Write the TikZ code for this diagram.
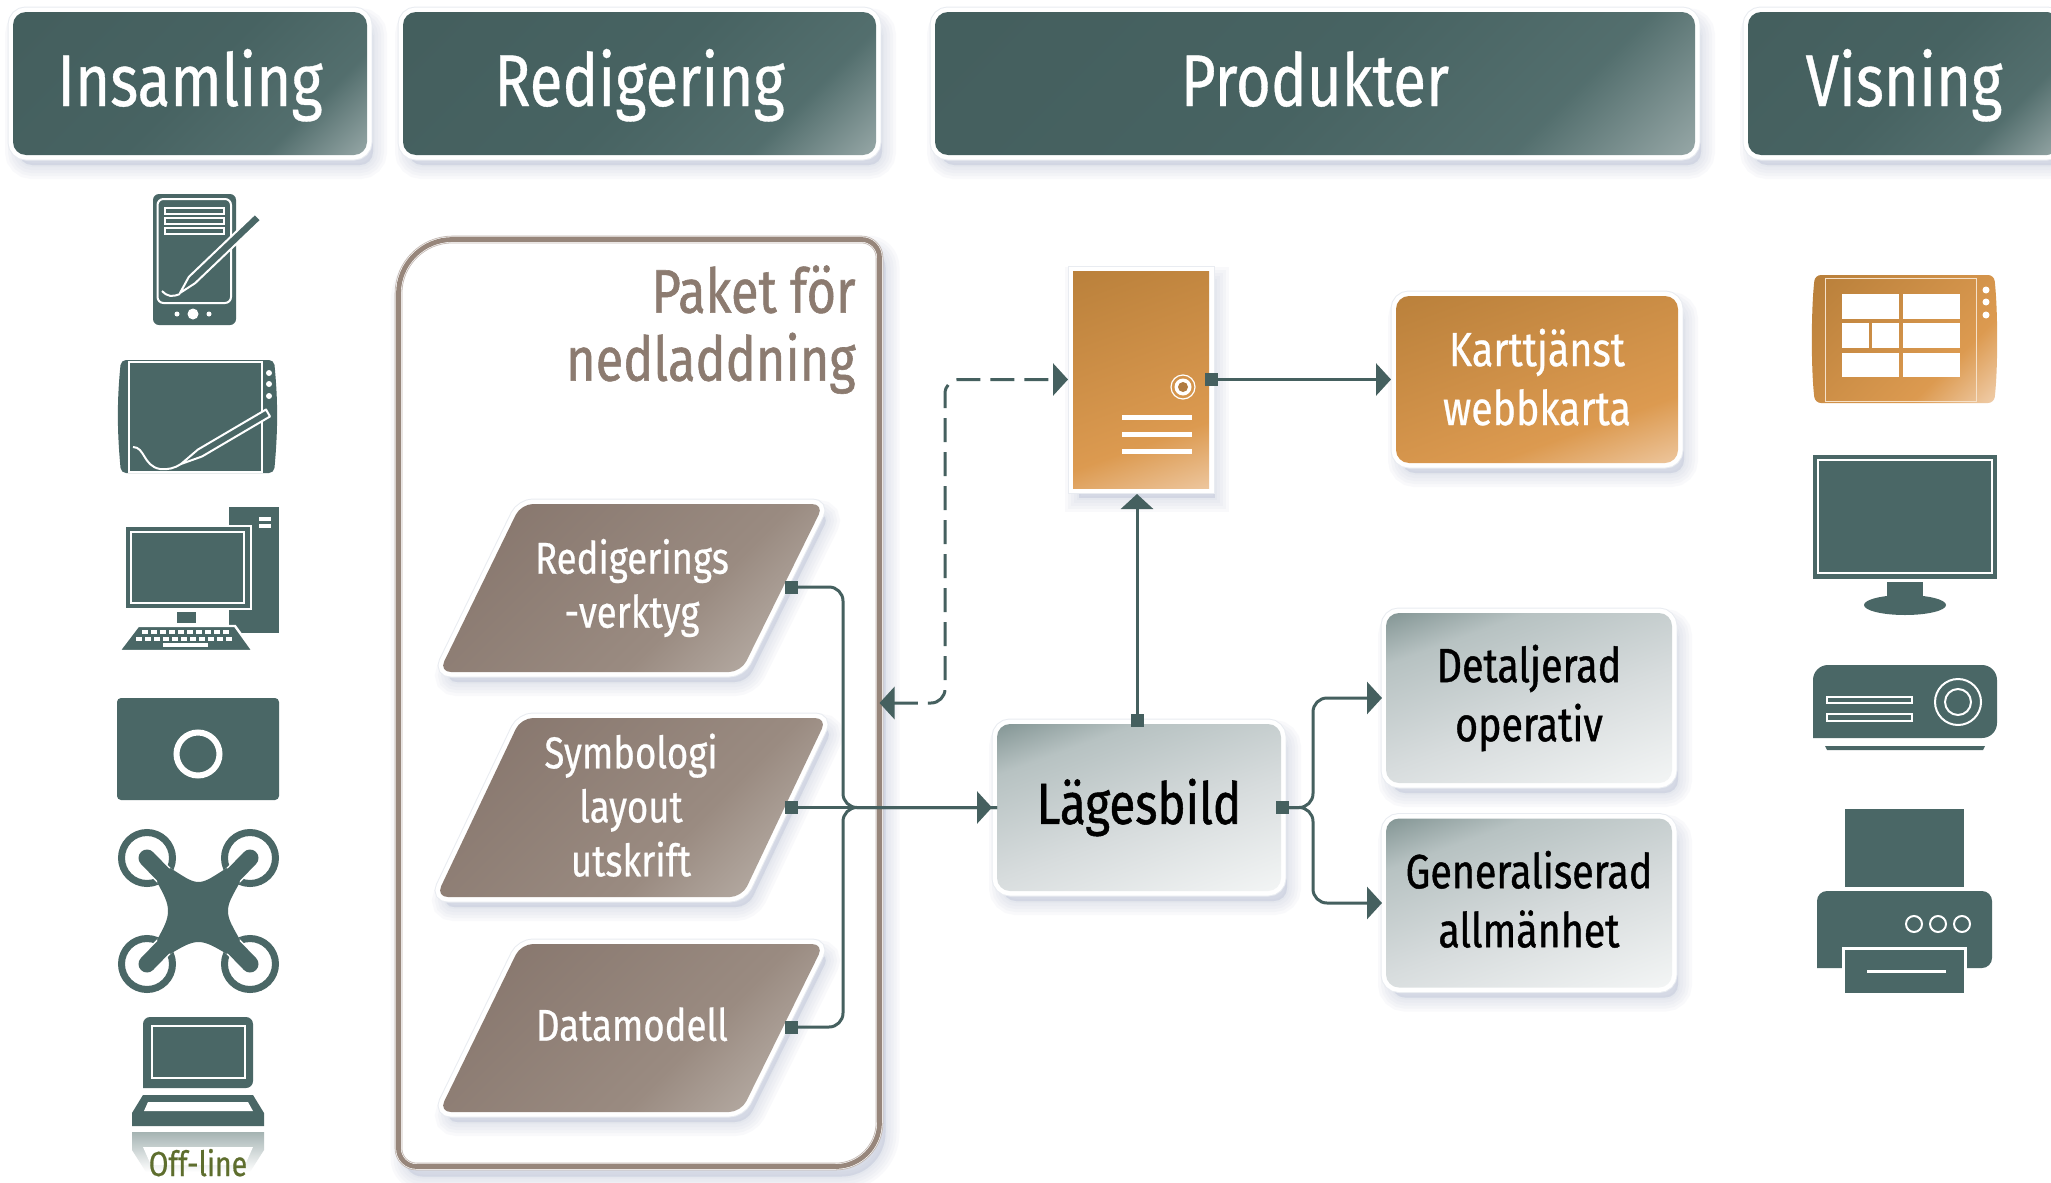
\documentclass[tikz,border=0pt]{standalone}
\usepackage{fontspec}
\setmainfont{Fira Sans}[FakeStretch=0.82,FakeBold=0.5]
\newfontfamily\medfont{Fira Sans}[FakeStretch=0.82,FakeBold=0.9]
\usetikzlibrary{arrows.meta}
\definecolor{teal}{HTML}{4A6766}
\definecolor{linec}{HTML}{45605F}
\definecolor{shc}{HTML}{AEB8D0}
\definecolor{glow}{HTML}{E9ECF1}
\definecolor{brown}{HTML}{97867B}
\definecolor{browntxt}{HTML}{8C7B70}
\definecolor{oliv}{HTML}{5E6E2E}
\pgfdeclareverticalshading{tealg}{100bp}{color(0bp)=(teal!45!white); color(14.6bp)=(teal!58!white); color(29bp)=(teal!95!white); color(50bp)=(teal!96!black); color(100bp)=(teal!90!black)}
\definecolor{or1}{HTML}{EFCBA6}\definecolor{or2}{HTML}{DC9A50}\definecolor{or3}{HTML}{B87F3A}
\pgfdeclareverticalshading{orangeg}{100bp}{color(0bp)=(or1); color(16bp)=(or1); color(34bp)=(or2); color(85bp)=(or3); color(100bp)=(or3)}
\definecolor{gr1}{HTML}{F3F5F5}\definecolor{gr2}{HTML}{D7DCDD}\definecolor{gr3}{HTML}{B7C2C2}\definecolor{gr4}{HTML}{849695}
\pgfdeclareverticalshading{grayg}{100bp}{color(0bp)=(gr1); color(18bp)=(gr1); color(45bp)=(gr2); color(70bp)=(gr3); color(82bp)=(gr4); color(100bp)=(gr4)}
\definecolor{br1}{HTML}{C5BDB6}\definecolor{br2}{HTML}{B5ABA3}\definecolor{br3}{HTML}{9A8B81}\definecolor{br4}{HTML}{84736A}
\pgfdeclareverticalshading{browng}{100bp}{color(0bp)=(br1); color(15bp)=(br1); color(23bp)=(br2); color(40bp)=(br3); color(85bp)=(br4); color(100bp)=(br4)}
\tikzset{
  shlayer/.style={preaction={draw=shc,fill=shc,opacity=.07,line width=#1,transform canvas={shift={(3pt,-5pt)}}}},
  softshadow/.style={shlayer=14pt,shlayer=11pt,shlayer=8pt,shlayer=5pt,shlayer=2pt},
  framed/.style={softshadow,preaction={draw=glow,line width=5.5pt},preaction={draw=white,line width=4.5pt}},
  wh/.style 2 args={minimum width=#1*.5pt,minimum height=#2*.5pt},
  flatbox/.style={rectangle,inner sep=0pt,outer sep=0pt,rounded corners=6.5pt,framed,align=center},
  hdr/.style={flatbox,shading=tealg,shading angle=45,text=white,font=\fontsize{36.6}{40}\selectfont,text height=24pt,text depth=1.5pt},
  orbox/.style={flatbox,shading=orangeg,shading angle=20,text=white,font=\fontsize{24}{29.5}\selectfont},
  grbox/.style={flatbox,shading=grayg,shading angle=20,text=black,font=\medfont\fontsize{24}{29.5}\selectfont},
  parashape/.style={rounded corners=6pt,framed,shade,shading=browng,shading angle=45},
  paratext/.style={inner sep=0pt,outer sep=0pt,text=white,align=center,font=\fontsize{22.3}{27}\selectfont},
  port/.style={fill=linec,inner sep=0pt,outer sep=0pt,minimum size=6.5pt,rectangle},
  conn/.style={draw=linec,line width=1.5pt,rounded corners=7pt},
  tipped/.style={-{Triangle[length=7.5pt,width=16pt]}},
  wl/.style={draw=white,line width=1pt},
  pkgpath/.style={insert path={(pkg.north) [rounded corners=9pt] -- (pkg.north east) [rounded corners=22pt] -- (pkg.south east) [rounded corners=9pt] -- (pkg.south west) [rounded corners=27pt] -- (pkg.north west) -- cycle}},
}
\begin{document}
\begin{tikzpicture}[x=.5pt,y=-.5pt]
\useasboundingbox (0,0) rectangle (2051,1183);
\clip (0,0) rectangle (2051,1183);
\fill[white] (0,0) rectangle (2051,1183);
% headers
\node[hdr,wh={354}{143}] (h1) at (190,83.5) {Insamling};
\node[hdr,wh={473}{143}] (h2) at (639.5,83.5) {Redigering};
\node[hdr,wh={760}{143}] (h3) at (1315,83.5) {Produkter};
\node[hdr,wh={312}{143}] (h4) at (1904,83.5) {Visning};
% package container
\node[minimum width=240.5pt,minimum height=463.5pt,inner sep=0pt,outer sep=0pt] (pkg) at (639,703) {};
\path[softshadow,fill=white,pkgpath];
\draw[brown!60!white,line width=3.8pt,pkgpath];
\draw[white,line width=3pt,pkgpath];
\draw[brown,line width=2.4pt,pkgpath];
\node[anchor=north east,align=right,text=browntxt,inner sep=0pt,font=\medfont\fontsize{30.8}{34}\selectfont] (pkgt) at (856,265) {Paket för\\nedladdning};
% parallelograms
\path[parashape] (521,504) -- (824,504) -- (741,672) -- (439,672) -- cycle;
\node[paratext] (p1) at (632,588) {Redigerings\\-verktyg};
\path[parashape] (521,718) -- (827,718) -- (742,897) -- (436,897) -- cycle;
\node[paratext] (p2) at (631,807.5) {Symbologi\\layout\\utskrift\\[-24.4pt]\mbox{}};
\path[parashape] (521,944) -- (824,944) -- (741,1112) -- (439,1112) -- cycle;
\node[paratext] (p3) at (632,1028) {Datamodell\\[-23pt]\mbox{}};
% product boxes
\node[rectangle,inner sep=0pt,outer sep=0pt,framed,shading=orangeg,shading angle=20,wh={136}{217}] (srv) at (1141,379.5) {};
\node[orbox,wh={282}{167}] (kart) at (1537,379.5) {Karttjänst\\webbkarta\\[-26.9pt]\mbox{}};
\node[grbox,wh={284}{167},font=\medfont\fontsize{29}{32}\selectfont] (lag) at (1139,807.5) {Lägesbild};
\node[grbox,wh={286}{170}] (det) at (1529,698) {Detaljerad\\operativ};
\node[grbox,wh={286}{169}] (gen) at (1529,903) {Generaliserad\\allmänhet\\[-25.5pt]\mbox{}};
% server details
\draw[white,line width=.6pt] (1183,387) circle (12);
\fill[white] (1183,387) circle (8.5);
\fill[or2!80!black] (1183,387) circle (5);
\foreach \yy in {417,434,451} \fill[white] (1122,\yy-2.5) rectangle (1192,\yy+2.5);
% ports
\node[port] (pp1) at (791,587) {};
\node[port] (pp2) at (791,807.5) {};
\node[port] (pp3) at (791,1027) {};
\node[port] (ps) at (1211,379.5) {};
\node[port] (plt) at (1137,720) {};
\node[port] (plr) at (1282,807.5) {};
% connectors
\coordinate (bus) at (843,807.5);
\coordinate (dj1) at (945,379.5);
\coordinate (dj2) at (945,703);
\coordinate (fork) at (1313,807.5);
\draw[conn] (pp1.center) -| (bus) -- (lag.west);
\draw[conn] (pp3.center) -| (bus) -- (lag.west);
\draw[conn,tipped,shorten >=2.5pt] (pp2.center) -- (lag.west);
\draw[conn,tipped,shorten >=3pt] (plt.center) -- (plt |- srv.south);
\draw[conn,tipped,shorten >=2.5pt] (ps.center) -- (kart.west);
\draw[conn,tipped,shorten >=2pt] (plr.center) -- (fork) |- (det.west);
\draw[conn,tipped,shorten >=2pt] (plr.center) -- (fork) |- (gen.west);
\draw[conn,dash pattern=on 12pt off 5pt,{Triangle[length=7.5pt,width=16pt]}-{Triangle[length=7.5pt,width=16pt]},shorten >=2.5pt] (pkg.east |- dj2) -- (dj2) -- (dj1) -- (srv.west);
% phone
\fill[teal,rounded corners=3pt] (153,194) rectangle (236,325);
\draw[wl,rounded corners=3pt] (157.5,199) rectangle (231,303);
\foreach \yy in {208,218,228} \draw[white,fill=teal,line width=.7pt] (165,\yy) rectangle (224,\yy+6);
\fill[white] (193,314) circle (5.5); \fill[white] (177,314) circle (2.5); \fill[white] (209,314) circle (2.5);
\draw[wl,fill=teal,line join=round] (180,293) -- (188.9,276.8) -- (254.9,213.8) -- (261.1,220.2) -- (195.1,283.2) -- cycle;
\draw[wl] (162,291) .. controls (168,297) and (172,297) .. (180,294);
% tablet
\fill[teal,rounded corners=2.5pt] (121,360) .. controls (117,400) and (117,430) .. (121,473) -- (274,473) .. controls (278,430) and (278,400) .. (274,360) -- cycle;
\draw[wl] (129,362) rectangle (262,472);
\foreach \yy in {373,384,396} \fill[white] (269,\yy) circle (3);
\draw[wl,fill=teal,line join=round] (181,464) -- (198,449.5) -- (266,409.5) -- (270,416.5) -- (202,456.5) -- cycle;
\draw[wl] (133,447) .. controls (145,447) and (143,466) .. (160,469) .. controls (168,470) and (175,468) .. (181,464);
% desktop
\fill[teal] (229,507) rectangle (279,633);
\fill[white] (259,517) rectangle (271,521); \fill[white] (259,524) rectangle (271,528);
\draw[white,fill=teal,line width=1.2pt] (125,526) rectangle (251,609);
\draw[wl] (131,532) rectangle (244,603);
\fill[teal] (177,612) rectangle (196,623);
\draw[white,fill=teal,line width=1.2pt] (119,651) -- (253,651) -- (235,626) -- (138,626) -- cycle;
\foreach \xx in {142,151,...,223} {\fill[white] (\xx,630) rectangle (\xx+6,633.5);}
\foreach \xx in {136,145,...,227} {\fill[white] (\xx,637) rectangle (\xx+6,640.5);}
\fill[white] (163,643) rectangle (208,646.5);
% camera
\fill[teal,rounded corners=2pt] (117,698) rectangle (279,800);
\draw[white,line width=3pt] (198,754) circle (21.5);
% drone
\foreach \cx/\cy in {147/858,250/858,147/964,250/964} \draw[teal,line width=3.5pt] (\cx,\cy) circle (25.5);
\draw[white,line width=10pt,line cap=round] (147,858) -- (198.5,911);
\draw[white,line width=10pt,line cap=round] (250,858) -- (198.5,911);
\draw[white,line width=10pt,line cap=round] (147,964) -- (198.5,911);
\draw[white,line width=10pt,line cap=round] (250,964) -- (198.5,911);
\foreach \cx/\cy in {147/858,250/858,147/964,250/964} \draw[teal,line width=8.5pt,line cap=round] (\cx,\cy) -- (198.5,911);
\fill[teal] (170,868) .. controls (182,875) and (190,882) .. (198.5,882) .. controls (207,882) and (215,875) .. (227,868) -- (240,882) .. controls (233,895) and (228,902) .. (228,911) .. controls (228,920) and (233,927) .. (240,940) -- (227,954) .. controls (215,947) and (207,942) .. (198.5,942) .. controls (190,942) and (182,947) .. (170,954) -- (157,940) .. controls (164,927) and (168,920) .. (168,911) .. controls (168,902) and (164,895) .. (157,882) -- cycle;
% laptop
\fill[teal,rounded corners=3.5pt] (143,1088) -- (143,1017) -- (253,1017) -- (253,1088) [sharp corners] -- cycle;
\draw[wl] (152,1026) rectangle (245,1078);
\fill[teal] (143,1095) -- (253,1095) -- (264,1113) -- (264,1126) -- (132,1126) -- (132,1113) -- cycle;
\fill[white] (148,1102) -- (248,1102) -- (253,1111) -- (144,1111) -- cycle;
\shade[top color=teal!50!white,bottom color=white] (132,1132) -- (264,1132) -- (264,1150) -- (250,1172) -- (146,1172) -- (132,1150) -- cycle;
\fill[white] (143,1147) -- (253,1147) -- (245,1165) -- (151,1165) -- cycle;
\node[anchor=base,inner sep=0pt,text=oliv,font=\fontsize{17.4}{20}\selectfont] (off) at (198,1176) {Off-line};
% orange tablet
\shade[shading=orangeg,shading angle=45,rounded corners=3pt] (1815,275) .. controls (1811,310) and (1811,370) .. (1815,403) -- (1994,403) .. controls (1998,370) and (1998,310) .. (1994,275) -- cycle;
\draw[white!70!or2,line width=.5pt] (1825,278) rectangle (1976,401);
\fill[white] (1842,294) rectangle (1899,319); \fill[white] (1903,294) rectangle (1960,319);
\fill[white] (1842,323) rectangle (1869,348); \fill[white] (1872,323) rectangle (1899,348); \fill[white] (1903,323) rectangle (1960,348);
\fill[white] (1842,353) rectangle (1899,377); \fill[white] (1903,353) rectangle (1960,377);
\foreach \yy in {290,302,315} \fill[white] (1986,\yy) circle (3.5);
% monitor
\fill[teal] (1813,455) rectangle (1997,579);
\draw[wl] (1818,460) rectangle (1992,573);
\fill[teal] (1887,582) rectangle (1923,600);
\fill[teal] (1905,605) ellipse (41 and 10);
% projector
\fill[teal,rounded corners=7.5pt] (1813,738) -- (1813,665) -- (1997,665) -- (1997,738) [sharp corners] -- cycle;
\draw[white,fill=teal,line width=.9pt] (1827,697) rectangle (1912,703);
\draw[white,fill=teal,line width=.9pt] (1827,714) rectangle (1912,721);
\draw[white,line width=1pt] (1958,702) circle (23);
\draw[white,line width=1pt] (1958,702) circle (13);
\fill[teal] (1825,746) -- (1985,746) -- (1983,750) -- (1827,750) -- cycle;
% printer
\fill[teal] (1845,809) rectangle (1964,887);
\fill[teal,rounded corners=5pt] (1817,968) -- (1817,891) -- (1992,891) -- (1992,968) [sharp corners] -- cycle;
\foreach \xx in {1914,1938,1962} \draw[white,line width=1pt] (\xx,924) circle (8);
\draw[white,fill=teal,line width=1.2pt] (1843.5,948.5) rectangle (1965.5,994);
\fill[white] (1867,970) rectangle (1946,973);
\end{tikzpicture}
\end{document}
